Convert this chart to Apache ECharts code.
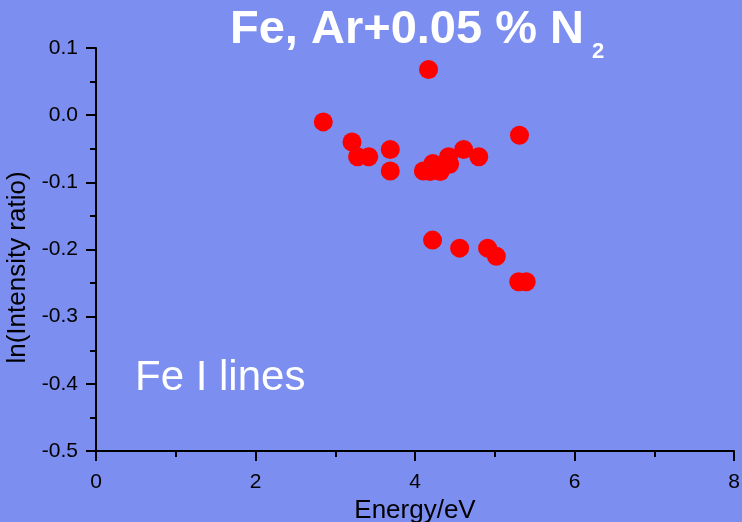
<!DOCTYPE html>
<html>
<head>
<meta charset="utf-8">
<script src="https://cdn.jsdelivr.net/npm/echarts@6/dist/echarts.min.js"></script>
<style>
  html, body { margin: 0; padding: 0; background: #7C8EEF; }
  #chart { width: 742px; height: 522px; }
</style>
</head>
<body>
<div id="chart"></div>
<script>
// Upper-level energies (eV) of the Fe I lines
const energy = [2.85, 3.21, 3.28, 3.42, 3.69, 3.69, 4.105, 4.19, 4.225, 4.316, 4.42,
                4.433, 4.61, 4.80, 4.17, 5.31, 4.22, 4.56, 4.91, 5.02, 5.30, 5.395];
// ln of the intensity ratio for each line
const lnRatio = [-0.010, -0.040, -0.062, -0.062, -0.051, -0.083, -0.083, -0.084, -0.072, -0.084, -0.062,
                 -0.073, -0.051, -0.062, 0.068, -0.030, -0.186, -0.198, -0.198, -0.210, -0.248, -0.248];

const xTickLabels = ['0', '2', '4', '6', '8'];
const yTickLabels = ['-0.5', '-0.4', '-0.3', '-0.2', '-0.1', '0.0', '0.1'];

const titleMain = 'Fe, Ar+0.05 % N';
const titleSub = '2';
const noteText = 'Fe I lines';

const points = energy.map((e, i) => [e, lnRatio[i]]);
const FONT = '"Liberation Sans", Arial, Helvetica, sans-serif';

const chart = echarts.init(document.getElementById('chart'), null, { renderer: 'canvas' });

chart.setOption({
  backgroundColor: '#7C8EEF',
  animation: false,
  grid: { left: 96, right: 8, top: 48, bottom: 71, containLabel: false, outerBoundsMode: 'none' },
  xAxis: {
    type: 'value',
    min: 0, max: 8, interval: 2,
    name: 'Energy/eV',
    nameLocation: 'middle',
    nameGap: 44,
    nameTextStyle: { color: '#000', fontSize: 26, fontFamily: FONT },
    axisLine: { show: true, onZero: false, lineStyle: { color: '#000', width: 2 } },
    axisTick: { show: true, inside: false, length: 10, lineStyle: { color: '#000', width: 2 } },
    minorTick: { show: true, splitNumber: 2, length: 6, lineStyle: { color: '#000', width: 2 } },
    splitLine: { show: false },
    axisLabel: {
      color: '#000', fontSize: 21, fontFamily: FONT, margin: 21,
      formatter: v => xTickLabels[Math.round(v / 2)]
    }
  },
  yAxis: {
    type: 'value',
    min: -0.5, max: 0.1, interval: 0.1,
    name: 'ln(Intensity ratio)',
    nameLocation: 'middle',
    nameGap: 60,
    nameTextStyle: { color: '#000', fontSize: 26, fontFamily: FONT, padding: [0, 36, 0, 0] },
    axisLine: { show: true, onZero: false, lineStyle: { color: '#000', width: 2 } },
    axisTick: { show: true, inside: false, length: 10, lineStyle: { color: '#000', width: 2 } },
    minorTick: { show: true, splitNumber: 2, length: 6, lineStyle: { color: '#000', width: 2 } },
    splitLine: { show: false },
    axisLabel: {
      color: '#000', fontSize: 21, fontFamily: FONT, margin: 18,
      formatter: v => yTickLabels[Math.round((v + 0.5) * 10)]
    }
  },
  graphic: [
    {
      type: 'text', left: 230, top: 7,
      style: { text: titleMain, fill: '#fff', font: 'bold 47px ' + FONT }
    },
    {
      type: 'text', left: 592, top: 41,
      style: { text: titleSub, fill: '#fff', font: 'bold 22px ' + FONT }
    },
    {
      type: 'text', left: 135, top: 357,
      style: { text: noteText, fill: '#fff', font: '42px ' + FONT }
    }
  ],
  series: [{
    type: 'scatter',
    data: points,
    symbol: 'circle',
    symbolSize: 19,
    itemStyle: { color: '#FF0000', opacity: 1 }
  }]
});
</script>
</body>
</html>
